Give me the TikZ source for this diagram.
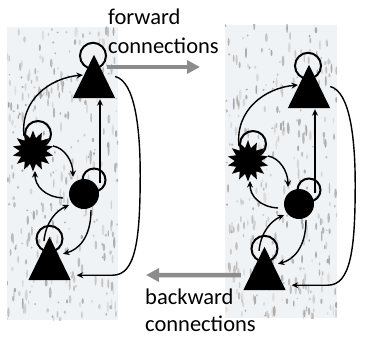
\documentclass[tikz,border=0pt]{standalone}
\usepackage{fontspec}
\setmainfont{Carlito}
\usetikzlibrary{shapes.geometric,arrows.meta,calc}
\pgfdeclarelayer{bglayer}
\pgfdeclarelayer{looplayer}
\pgfsetlayers{bglayer,looplayer,main}
\definecolor{bgbase}{RGB}{240,243,246}
\definecolor{fwdgray}{RGB}{140,140,140}
\tikzset{
  conn/.style={line width=1.4pt, -{Stealth[length=6.5pt,width=6pt]}},
  selfloop/.style={line width=2pt},
  bigarrow/.style={draw=fwdgray, line width=4.5pt, -{Triangle[length=13pt,width=13pt]}},
  lbl/.style={font=\fontsize{22.5}{28}\selectfont, anchor=base west, inner sep=0},
  tribox/.style={inner sep=0, minimum width=42pt, minimum height=43pt},
  starshape/.style={star, star points=14, star point ratio=1.55, minimum size=41pt, inner sep=0, fill=black},
  ballshape/.style={circle, minimum size=30pt, inner sep=0, fill=black},
}
\newcommand\rainbg[4]{%
  \begin{pgfonlayer}{bglayer}
  \fill[bgbase] (#1,#2) rectangle (#3,#4);
  \begin{scope}
  \clip (#1,#2) rectangle (#3,#4);
  \foreach \k in {1,...,320}{%
    \pgfmathsetmacro\rdx{#1+rnd*(#3-#1)}%
    \pgfmathsetmacro\rdy{#2+rnd*(#4-#2)}%
    \pgfmathsetmacro\rdl{0.8+rnd*5}%
    \pgfmathsetmacro\rdw{0.7+rnd*0.7}%
    \pgfmathtruncatemacro\rdg{25+rnd*45}%
    \fill[gray!\rdg] (\rdx,\rdy) ellipse[x radius=\rdw pt, y radius=\rdl pt];
  }
  \end{scope}
  \end{pgfonlayer}}
\newcommand\drawpanel[1]{%
  \node[tribox] (#1T) at (94,76.5) {};
  \node[tribox] (#1B) at (49.5,258.5) {};
  \node[starshape] (#1S) at (33,151) {};
  \node[ballshape] (#1C) at (84,194) {};
  \begin{pgfonlayer}{looplayer}
    \draw[selfloop] ($(#1T.north)+(-1,1)$) circle[radius=13pt];
    \draw[selfloop] ($(#1B.north)+(0,2)$) circle[radius=13pt];
    \draw[selfloop] ($(#1S.center)+(5,-17)$) circle[radius=13pt];
    \draw[selfloop] ($(#1C.center)+(10,-14)$) circle[radius=11.5pt];
  \end{pgfonlayer}
  \fill (#1T.north) -- (#1T.south east) -- (#1T.south west) -- cycle;
  \fill (#1B.north) -- (#1B.south east) -- (#1B.south west) -- cycle;
  % star -> top triangle
  \draw[conn] ($(#1S.center)+(-9,-15)$) .. controls +(-4,-36) and +(-33,3) .. ($(#1T.north)!0.5!(#1T.south west)+(-0.5,-1.5)$);
  % ball -> top triangle
  \draw[conn] ($(#1C.center)+(16,-11)$) -- ($(#1T.south)+(6,1)$);
  % star -> ball
  \draw[conn] ($(#1S.center)+(20,-5)$) .. controls +(12,2) and +(0,-15) .. ($(#1C.center)+(-11,-17)$);
  % ball -> star
  \draw[conn] ($(#1C.center)+(-21,4)$) .. controls +(-18,-1) and +(0,15) .. ($(#1S.center)+(2,20)$);
  % bottom triangle -> ball
  \draw[conn] ($(#1B.north)+(-5.5,4)$) .. controls +(2,-19) and +(-13,6) .. ($(#1C.center)+(-15,11)$);
  % ball -> bottom triangle
  \draw[conn] ($(#1C.center)+(7,16)$) .. controls +(0,28) and +(15,-4) .. ($(#1B.north)+(13.5,17)$);
  % top triangle -> bottom triangle
  \draw[conn] (#1T.east) .. controls +(20,5) and +(0,-45) .. ($(#1T.east)+(25,98)$)
     .. controls +(0,65) and +(23,0) .. ($(#1B.south east)+(42,-5)$) -- ($(#1B.south east)+(6,-5)$);
}
\begin{document}
\begin{tikzpicture}[x={(1pt,0)}, y={(0,-1pt)}]
  \useasboundingbox (0,0) rectangle (371,337);
  \pgfmathsetseed{11}
  \rainbg{7}{27}{118}{320}
  \rainbg{225}{25}{337}{318}
  \drawpanel{L}
  \begin{scope}[shift={(215,10)}]
    \drawpanel{R}
  \end{scope}
  \coordinate (fwdend) at (200,67);
  \coordinate (bwdend) at (146,275);
  \draw[bigarrow] ($(LT.east)+(-8,-9.5)$) -- (fwdend);
  \draw[bigarrow] ($(RB.south west)+(-2.5,-15)$) -- (bwdend);
  \node[lbl] (fwd1) at (108,25) {forward};
  \node[lbl] (fwd2) at (108,53) {connections};
  \node[lbl] (bwd1) at (145,304) {backward};
  \node[lbl] (bwd2) at (145,331) {connections};
\end{tikzpicture}
\end{document}
